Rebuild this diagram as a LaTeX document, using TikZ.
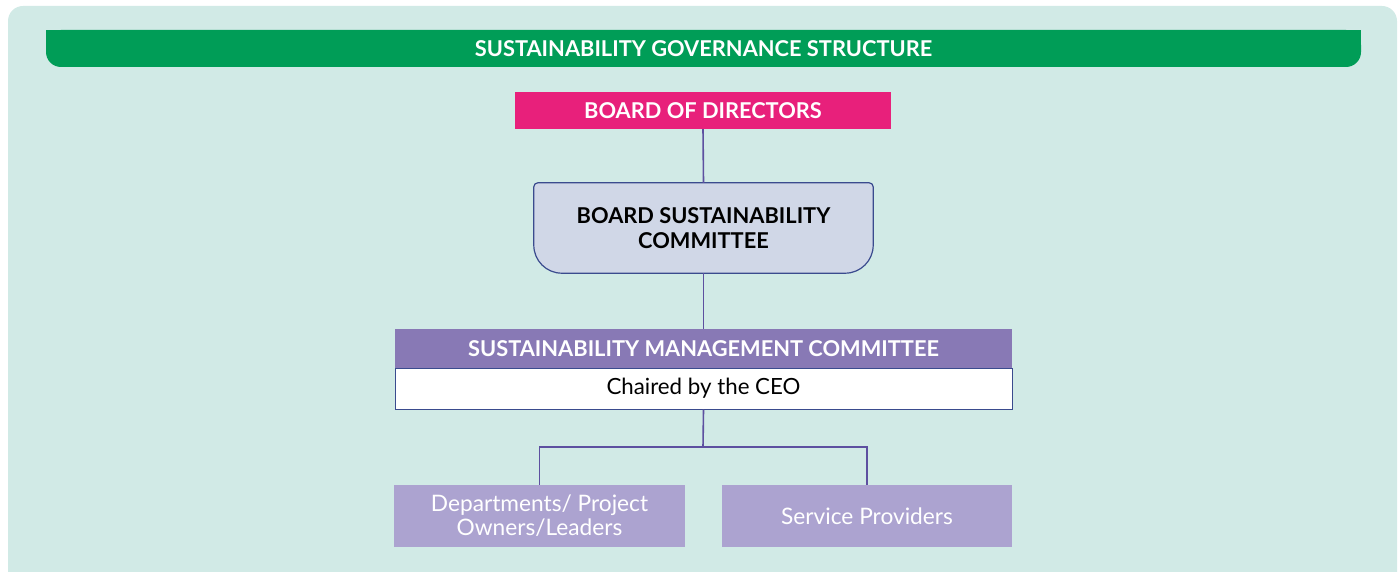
\documentclass[tikz,border=0pt]{standalone}
\usepackage{fontspec}
\setmainfont{Lato}
\usetikzlibrary{positioning,calc}

\definecolor{panelbg}{HTML}{D1EAE6}
\definecolor{titlegreen}{HTML}{009D57}
\definecolor{boardpink}{HTML}{E8207B}
\definecolor{bscfill}{HTML}{D0D7E7}
\definecolor{bscline}{HTML}{3A4B8E}
\definecolor{smcpurple}{HTML}{8879B5}
\definecolor{linkline}{HTML}{5D50A0}
\definecolor{unitfill}{HTML}{ACA3D0}

\begin{document}
\begin{tikzpicture}[
  x=1pt, y=-1pt,
  capsfont/.style={font=\fontsize{21.8}{25}\selectfont\bfseries},
  plainfont/.style={font=\fontsize{22.3}{24}\selectfont},
  headbox/.style={rectangle, inner sep=0pt, align=center, text=white, capsfont},
  unitbox/.style={rectangle, fill=unitfill, inner sep=0pt, align=center, text=white,
                  font=\fontsize{22.7}{24}\selectfont, minimum height=62pt},
  link/.style={draw=linkline, line width=1.6pt},
]
\useasboundingbox (0,0) rectangle (1399,572);

% --- panel and title bar ---
\fill[panelbg, rounded corners=15pt] (8,6) rectangle (1397,620);
\fill[titlegreen, rounded corners=15pt] (46,30) rectangle (1361,67);
\fill[titlegreen] (46,30) rectangle (1361,50);
\node[headbox] (title) at (703.5,49) {SUSTAINABILITY GOVERNANCE STRUCTURE};

% --- boxes ---
\node[headbox, fill=boardpink, minimum width=376pt, minimum height=37pt]
  (board) at (703,110.5) {BOARD OF DIRECTORS};

\node[rectangle, inner sep=0pt, minimum width=339pt, minimum height=90pt]
  (bsc) at (703.5,228) {};
\filldraw[fill=bscfill, draw=bscline, line width=1.2pt]
  ([yshift=-4pt]bsc.north west) arc[start angle=180, end angle=90, radius=4pt]
  -- ([xshift=-4pt]bsc.north east) arc[start angle=90, end angle=0, radius=4pt]
  -- ([yshift=28pt]bsc.south east) arc[start angle=0, end angle=-90, radius=28pt]
  -- ([xshift=28pt]bsc.south west) arc[start angle=-90, end angle=-180, radius=28pt]
  -- cycle;
\node[align=center, capsfont] at (bsc) {BOARD SUSTAINABILITY\\COMMITTEE};

\node[headbox, fill=smcpurple, minimum width=617pt, minimum height=39pt]
  (smc) at (703.5,348.5) {SUSTAINABILITY MANAGEMENT COMMITTEE};
\node[rectangle, fill=white, draw=bscline, line width=1pt, inner sep=0pt,
      minimum width=617pt, minimum height=41pt, plainfont]
  (chair) at (703.5,388.5) {Chaired by the CEO};

\node[unitbox, minimum width=291pt] (dept) at (539.5,516) {Departments/ Project\\Owners/Leaders};
\node[unitbox, minimum width=290pt] (serv) at (867,516) {Service Providers};

% --- connectors ---
\coordinate (split) at (703,447);
\draw[link] (board.south) -- (bsc.north);
\draw[link] (bsc.south) -- (smc.north);
\draw[link] (chair.south) -- (split);
\draw[link] (dept.north) |- (split) -| (serv.north);

\end{tikzpicture}
\end{document}
